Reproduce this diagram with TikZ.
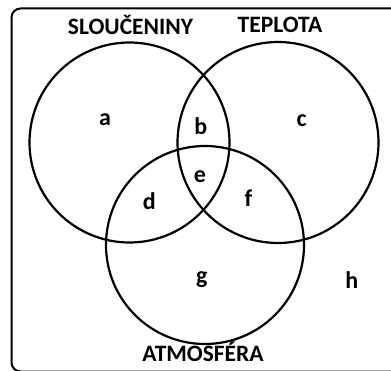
\documentclass[tikz,border=0pt]{standalone}
\usepackage{fontspec}
\setmainfont{Carlito}
\begin{document}
\begin{tikzpicture}[x=1pt,y=-1pt,
  venn/.style={draw=black,line width=2.2pt},
  frame/.style={draw=black,line width=2pt,rounded corners=9pt},
  setlabel/.style={font=\fontsize{23.5}{23.5}\selectfont\bfseries,anchor=base,inner sep=0pt},
  region/.style={font=\fontsize{24}{24}\selectfont\bfseries,anchor=base,inner sep=0pt}]
\useasboundingbox (0,0) rectangle (391,371);
\clip (0,0) rectangle (391,371);
\draw[frame] (11.5,8.5) rectangle (420,371.5);
\coordinate (L) at (129.5,142.5);
\coordinate (R) at (278,142.5);
\coordinate (B) at (205,245);
\draw[venn] (L) circle (100);
\draw[venn] (R) circle (100.5);
\draw[venn] (B) circle (99);
\node[setlabel] (sl) at (130.5,34.3) {SLOUČENINY};
\node[setlabel] (tp) at (280,32.3) {TEPLOTA};
\node[setlabel] (at) at (203,361.7) {ATMOSFÉRA};
\node[region] (a) at (105,126) {a};
\node[region] (b) at (200.7,134.3) {b};
\node[region] (c) at (301.7,127) {c};
\node[region] (d) at (149.3,209.3) {d};
\node[region] (e) at (200,182.7) {e};
\node[region] (f) at (248.3,206.7) {f};
\node[region] (g) at (201.7,284) {g};
\node[region] (h) at (351.7,288.3) {h};
\end{tikzpicture}
\end{document}
